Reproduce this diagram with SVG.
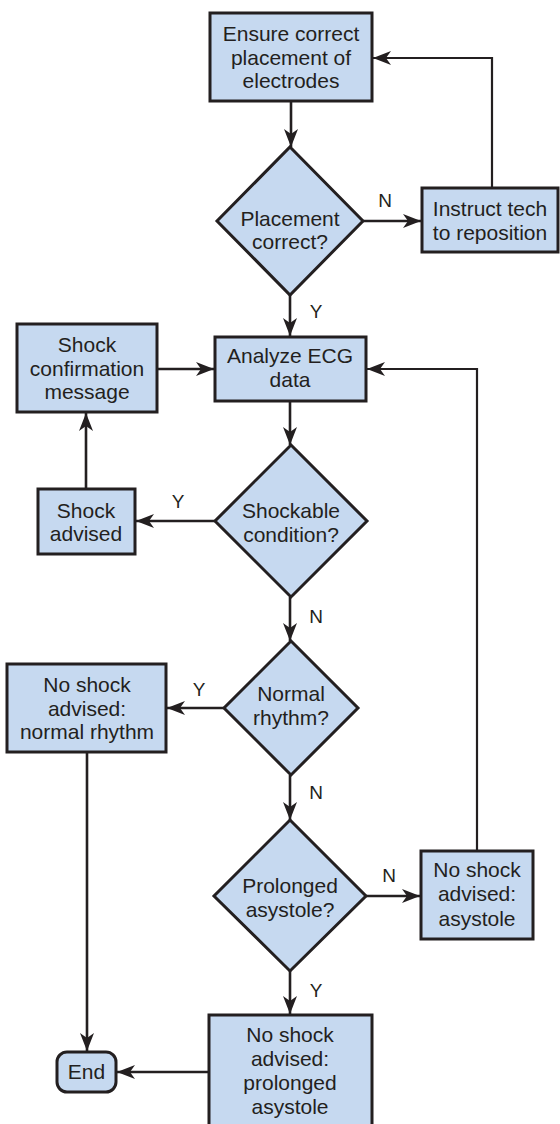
<svg xmlns="http://www.w3.org/2000/svg" width="560" height="1124" viewBox="0 0 560 1124">
<style>
.n{fill:#c6d9f0;stroke:#231f20;stroke-width:3}
.t{font-family:"Liberation Sans",Arial,sans-serif;font-size:21px;fill:#231f20;text-anchor:middle}
.l{font-family:"Liberation Sans",Arial,sans-serif;font-size:19px;fill:#231f20;text-anchor:middle}
.c{fill:none;stroke:#231f20;stroke-width:2.6}
.c2{fill:none;stroke:#231f20;stroke-width:2.2}
</style>
<defs>
<marker id="ah" markerUnits="userSpaceOnUse" markerWidth="18" markerHeight="14" refX="18" refY="7" orient="auto">
<path d="M0,0 L18,7 L0,14 L5,7 z" fill="#231f20"/>
</marker>
</defs>
<rect width="560" height="1124" fill="#ffffff"/>
<g id="connectors">
<path class="c" d="M291,101 V147" marker-end="url(#ah)"/>
<path class="c" d="M363,221 H421" marker-end="url(#ah)"/>
<path class="c2" d="M492,188 V58 H373" marker-end="url(#ah)"/>
<path class="c" d="M290,295 V336" marker-end="url(#ah)"/>
<path class="c" d="M157,369 H214" marker-end="url(#ah)"/>
<path class="c" d="M290,401 V445" marker-end="url(#ah)"/>
<path class="c" d="M215,521 H136" marker-end="url(#ah)"/>
<path class="c" d="M86,489 V413" marker-end="url(#ah)"/>
<path class="c" d="M290,597 V641" marker-end="url(#ah)"/>
<path class="c" d="M224,708 H167" marker-end="url(#ah)"/>
<path class="c" d="M290,775 V820" marker-end="url(#ah)"/>
<path class="c" d="M366,896 H420" marker-end="url(#ah)"/>
<path class="c2" d="M477,851 V369 H367" marker-end="url(#ah)"/>
<path class="c" d="M290,971 V1014" marker-end="url(#ah)"/>
<path class="c" d="M87,752 V1051" marker-end="url(#ah)"/>
<path class="c" d="M209,1072 H117" marker-end="url(#ah)"/>
<text class="l" x="385" y="207">N</text>
<text class="l" x="316" y="318">Y</text>
<text class="l" x="178" y="508">Y</text>
<text class="l" x="316" y="623">N</text>
<text class="l" x="199" y="696">Y</text>
<text class="l" x="316" y="799">N</text>
<text class="l" x="389" y="882">N</text>
<text class="l" x="316" y="997">Y</text>
</g>
<g id="ensure">
<rect class="n" x="210" y="13" width="162" height="88"/>
<text class="t" x="291" y="41">Ensure correct</text>
<text class="t" x="291" y="65">placement of</text>
<text class="t" x="291" y="88">electrodes</text>
</g>
<g id="placement">
<polygon class="n" points="290,147 363,221 290,295 217,221"/>
<text class="t" x="290" y="226">Placement</text>
<text class="t" x="290" y="249">correct?</text>
</g>
<g id="instruct">
<rect class="n" x="422" y="188" width="136" height="64"/>
<text class="t" x="490" y="216">Instruct tech</text>
<text class="t" x="490" y="240">to reposition</text>
</g>
<g id="analyze">
<rect class="n" x="215" y="337" width="151" height="64"/>
<text class="t" x="290" y="363">Analyze ECG</text>
<text class="t" x="290" y="387">data</text>
</g>
<g id="confirm">
<rect class="n" x="17" y="324" width="140" height="88"/>
<text class="t" x="87" y="352">Shock</text>
<text class="t" x="87" y="376">confirmation</text>
<text class="t" x="87" y="399">message</text>
</g>
<g id="shockable">
<polygon class="n" points="291,445 367,521 291,597 215,521"/>
<text class="t" x="291" y="518">Shockable</text>
<text class="t" x="291" y="542">condition?</text>
</g>
<g id="advised">
<rect class="n" x="38" y="489" width="97" height="65"/>
<text class="t" x="86" y="518">Shock</text>
<text class="t" x="86" y="541">advised</text>
</g>
<g id="normal">
<polygon class="n" points="291,641 358,708 291,775 224,708"/>
<text class="t" x="291" y="701">Normal</text>
<text class="t" x="291" y="725">rhythm?</text>
</g>
<g id="noshock-normal">
<rect class="n" x="7" y="664" width="159" height="88"/>
<text class="t" x="87" y="692">No shock</text>
<text class="t" x="87" y="716">advised:</text>
<text class="t" x="87" y="739">normal rhythm</text>
</g>
<g id="prolonged">
<polygon class="n" points="290,820 366,896 290,971 214,896"/>
<text class="t" x="290" y="893">Prolonged</text>
<text class="t" x="290" y="917">asystole?</text>
</g>
<g id="noshock-asystole">
<rect class="n" x="421" y="851" width="112" height="88"/>
<text class="t" x="477" y="877">No shock</text>
<text class="t" x="477" y="901">advised:</text>
<text class="t" x="477" y="926">asystole</text>
</g>
<g id="noshock-prolonged">
<rect class="n" x="209" y="1015" width="163" height="115"/>
<text class="t" x="290" y="1042">No shock</text>
<text class="t" x="290" y="1066">advised:</text>
<text class="t" x="290" y="1090">prolonged</text>
<text class="t" x="290" y="1114">asystole</text>
</g>
<g id="end">
<rect class="n" x="57" y="1052" width="59" height="40" rx="10"/>
<text class="t" x="86.5" y="1079">End</text>
</g>
</svg>
